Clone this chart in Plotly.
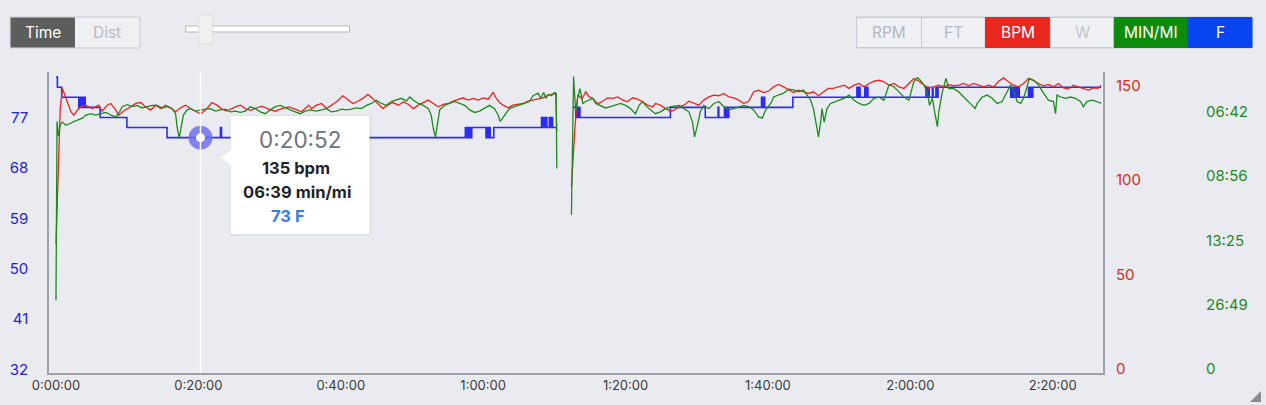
import plotly.graph_objects as go

# ---------------- data ----------------
x_tick_vals = [0, 20, 40, 60, 80, 100, 120, 140]
x_tick_text = ["0:00:00", "0:20:00", "0:40:00", "1:00:00", "1:20:00", "1:40:00", "2:00:00", "2:20:00"]
temp_tick_vals = [32, 41, 50, 59, 68, 77]
bpm_tick_vals = [0, 50, 100, 150]
speed_tick_vals = [0, 1, 2, 3, 4]          # m/s
pace_tick_text = ["0", "26:49", "13:25", "08:56", "06:42"]

hr_time = [0.0, 0.3, 0.6, 0.9, 1.6, 2.1, 2.5, 3.0, 3.5, 4.2, 5.1, 6.0, 6.5, 7.2, 7.7, 8.4, 8.8, 9.5,
           10.5, 11.2, 11.9, 12.6, 13.3, 14.0, 14.7, 15.4, 16.1, 16.8, 17.5, 18.2, 18.9, 19.6, 20.3,
           21.0, 21.9, 22.6, 23.3, 24.0, 24.5, 25.2, 25.9, 26.6, 27.3, 28.0, 28.9, 29.9, 30.8, 31.7,
           32.7, 33.6, 34.5, 35.5, 35.9, 36.6, 37.3, 38.0, 38.7, 39.4, 40.3, 41.0, 41.7, 42.4, 43.1,
           43.8, 44.5, 45.2, 45.9, 46.6, 47.3, 48.1, 48.8, 49.5, 50.2, 50.9, 51.6, 52.3, 53.0, 53.7,
           54.4, 55.1, 55.8, 56.5, 57.2, 57.9, 58.6, 59.3, 60.0, 60.7, 61.4, 61.8, 62.3, 62.8, 63.5,
           64.2, 64.9, 65.6, 66.3, 67.0, 67.7, 68.4, 69.1, 69.8, 70.2, 70.35, 71.4,
           72.4, 72.9, 73.3, 73.9, 74.4, 74.9, 75.4, 75.8, 76.3, 77.0, 77.5, 78.2, 78.9, 79.6, 80.3,
           81.0, 81.7, 82.4, 83.1, 83.8, 84.2, 84.9, 85.6, 86.4, 86.8, 87.5, 88.2, 88.9, 89.6, 90.3,
           91.0, 91.7, 92.4, 93.1, 93.8, 94.5, 95.2, 95.9, 96.6, 97.3, 98.0, 98.7, 99.4, 100.1, 100.8,
           101.5, 102.2, 102.9, 103.6, 104.3, 105.0, 105.7, 106.4, 107.1, 107.8, 108.5, 109.2, 110.0,
           110.7, 111.4, 112.1, 112.8, 113.5, 114.2, 114.9, 115.6, 116.3, 117.0, 117.7, 118.4, 119.1,
           119.8, 120.5, 121.2, 121.9, 122.6, 123.3, 124.0, 124.7, 125.4, 126.1, 126.8, 127.5, 128.2,
           128.9, 129.6, 130.3, 131.0, 131.7, 132.4, 133.1, 133.8, 134.5, 135.2, 135.9, 136.6, 137.3,
           138.0, 138.7, 139.4, 140.1, 140.8, 141.5, 142.2, 142.9, 143.6, 144.3, 145.0, 145.7, 146.4,
           146.8]
hr_bpm = [66, 105, 138, 148.5, 141.5, 136.2, 134.4, 137.0, 138.8, 139.7, 137.9, 139.7, 136.6, 139.7,
          140.6, 137.1, 134.4, 136.6, 138.8, 140.6, 141.1, 138.8, 137.1, 139.7, 137.9, 139.7, 138.3,
          136.2, 138.3, 139.7, 137.9, 136.6, 135.0, 137.1, 141.1, 139.7, 137.6, 136.6, 137.6, 138.8,
          139.7, 137.9, 137.0, 137.9, 139.2, 137.6, 136.5, 137.9, 138.8, 137.6, 136.2, 139.7, 137.9,
          139.7, 140.6, 137.9, 139.7, 141.5, 144.7, 142.4, 140.6, 141.8, 143.3, 145.4, 143.3, 140.6,
          137.9, 139.7, 141.1, 139.7, 141.5, 140.1, 137.9, 139.7, 141.1, 142.4, 140.6, 138.8, 140.1,
          140.6, 141.8, 142.9, 143.6, 142.4, 143.3, 142.4, 143.6, 142.9, 146.4, 143.6, 141.1, 139.7,
          138.3, 139.7, 140.1, 140.6, 141.8, 142.4, 143.3, 143.6, 145.0, 145.4, 145.9, 125.7, None,
          96.6, 128.0, 145.2, 143.0, 146.8, 144.1, 143.3, 141.5, 140.6, 142.4, 143.6, 143.3, 144.1,
          142.4, 141.5, 143.6, 142.9, 141.5, 139.7, 138.8, 140.6, 139.7, 137.9, 136.5, 137.0, 138.8,
          139.7, 141.8, 140.6, 139.7, 142.4, 144.1, 145.0, 144.7, 145.9, 144.1, 143.6, 142.4, 140.6,
          141.8, 146.8, 147.7, 146.4, 147.2, 149.4, 150.7, 149.4, 147.7, 146.4, 147.7, 146.8, 145.9,
          146.8, 144.7, 146.8, 148.6, 148.6, 149.4, 150.3, 148.6, 150.3, 151.2, 149.4, 151.2, 152.4,
          152.9, 152.1, 150.3, 151.2, 149.4, 148.6, 151.2, 153.8, 152.4, 150.3, 148.6, 149.4, 150.3,
          149.4, 150.7, 150.0, 150.3, 151.2, 150.0, 151.2, 150.3, 149.4, 150.3, 149.4, 152.4, 154.2,
          152.1, 150.3, 149.4, 151.2, 153.8, 152.9, 151.2, 150.0, 150.7, 149.4, 151.2, 148.9, 148.2,
          150.3, 149.4, 148.6, 147.7, 148.9, 148.6, 150.3]

pace_time = [0.0, 0.15, 0.35, 0.6, 0.9, 1.4, 1.8, 2.3, 3.0, 3.7, 4.2, 4.9, 5.6, 6.3, 7.0, 7.7, 8.4,
             8.8, 9.3, 10.0, 10.7, 11.4, 12.1, 12.8, 13.5, 14.2, 14.9, 15.6, 16.3, 16.8, 17.0, 17.3,
             17.6, 17.9, 18.4, 18.9, 19.6, 20.3, 21.0, 21.7, 22.4, 23.1, 23.8, 24.5, 25.2, 25.9, 26.6,
             27.3, 28.0, 28.7, 29.4, 30.1, 30.8, 31.5, 32.2, 32.9, 33.6, 34.3, 35.0, 35.7, 36.6, 37.3,
             38.0, 38.7, 39.4, 40.1, 40.8, 41.5, 42.2, 42.9, 43.6, 44.3, 45.0, 45.7, 46.4, 47.1, 47.8,
             48.5, 49.2, 49.7, 50.2, 50.9, 51.6, 52.3, 52.7, 53.0, 53.3, 53.6, 53.9, 54.6, 55.3, 56.0,
             56.7, 57.4, 58.1, 58.8, 59.5, 60.2, 60.9, 61.6, 62.1, 62.4, 63.0, 63.7, 64.4, 65.1, 65.8,
             66.5, 67.0, 67.7, 68.1, 68.5, 68.8, 69.2, 69.6, 70.0, 70.25, 70.35, 71.4,
             72.4, 72.7, 73.0, 73.3, 73.6, 74.0, 74.4, 74.9, 75.4, 75.8, 76.5, 77.2, 77.9, 78.6, 79.3,
             80.0, 80.7, 81.4, 81.9, 82.4, 82.8, 83.5, 84.2, 84.9, 85.6, 86.4, 87.5, 88.2, 88.9, 89.4,
             89.7, 90.1, 90.5, 91.0, 91.7, 92.4, 93.1, 93.8, 94.5, 95.2, 95.9, 96.6, 97.3, 98.0, 98.7,
             99.2, 99.7, 100.4, 100.8, 101.5, 102.2, 102.9, 103.6, 104.3, 105.0, 105.5, 106.0, 106.4,
             106.8, 107.1, 107.4, 107.6, 107.9, 108.3, 108.8, 109.5, 110.0, 110.7, 111.4, 112.1, 112.8,
             113.5, 114.2, 114.9, 115.6, 116.3, 117.0, 117.7, 118.4, 119.1, 119.8, 120.5, 121.0, 121.4,
             121.9, 122.4, 122.7, 123.1, 123.5, 123.8, 124.0, 124.5, 125.0, 125.4, 126.1, 126.8, 127.5,
             128.2, 128.7, 129.1, 129.4, 130.1, 130.8, 131.5, 132.2, 132.9, 133.6, 134.1, 134.5, 135.0,
             135.5, 135.9, 136.4, 136.7, 137.3, 138.0, 138.7, 139.4, 140.1, 140.4, 140.6, 141.1, 141.8,
             142.5, 143.2, 143.9, 144.3, 144.8, 145.5, 146.2, 146.8]
speed_ms = [1.07, 3.85, 3.62, 3.80, 3.84, 3.79, 3.81, 3.84, 3.87, 3.90, 3.95, 3.97, 3.95, 3.97, 3.99,
            3.95, 3.92, 3.97, 4.08, 4.11, 4.08, 4.10, 4.06, 4.08, 4.10, 4.10, 4.06, 4.08, 4.05, 3.97,
            3.77, 3.59, 3.79, 3.95, 4.03, 4.05, 4.01, 4.03, 4.04, 4.05, 4.01, 4.03, 4.04, 4.00, 4.01,
            3.99, 4.01, 4.08, 4.05, 4.00, 3.97, 4.03, 4.08, 4.10, 4.06, 4.03, 4.00, 3.97, 4.01, 4.03,
            4.01, 4.03, 4.05, 4.00, 4.01, 4.04, 4.03, 4.04, 4.06, 4.05, 4.10, 4.13, 4.18, 4.13, 4.10,
            4.16, 4.18, 4.21, 4.17, 4.23, 4.18, 4.13, 4.10, 4.05, 3.95, 3.74, 3.61, 3.84, 4.03, 4.10,
            4.13, 4.16, 4.13, 4.10, 4.03, 3.99, 4.01, 4.05, 4.10, 4.05, 3.95, 3.85, 3.95, 4.05, 4.08,
            4.10, 4.13, 4.16, 4.25, 4.29, 4.21, 4.30, 4.21, 4.27, 4.25, 4.30, 4.29, 3.12, None,
            2.40, 4.55, 4.00, 4.23, 4.36, 4.13, 4.16, 4.18, 4.21, 4.13, 4.10, 4.06, 4.08, 4.10, 4.13,
            4.10, 4.05, 3.97, 4.10, 4.16, 4.10, 4.03, 3.97, 4.00, 4.05, 4.08, 4.10, 4.05, 4.00, 3.84,
            3.61, 3.79, 4.00, 4.10, 4.05, 4.13, 4.16, 4.08, 4.03, 4.05, 4.08, 4.10, 4.08, 4.03, 3.92,
            3.90, 4.03, 4.13, 4.23, 4.26, 4.29, 4.35, 4.34, 4.31, 4.34, 4.26, 4.18, 4.05,
            3.79, 3.61, 3.84, 4.05, 3.84, 4.05, 4.13, 4.16, 4.18, 4.21, 4.26, 4.18, 4.13,
            4.10, 4.13, 4.21, 4.23, 4.18, 4.42, 4.39, 4.31, 4.23, 4.18, 4.47, 4.53, 4.49,
            4.42, 4.29, 4.10, 4.21, 3.95, 3.77, 4.00, 4.31, 4.52, 4.36, 4.36, 4.31, 4.23,
            4.16, 4.10, 4.05, 4.13, 4.23, 4.26, 4.21, 4.13, 4.16, 4.31, 4.42, 4.34, 4.16,
            4.13, 4.21, 4.39, 4.52, 4.49, 4.42, 4.29, 4.18, 4.16, 3.97, 4.26, 4.23, 4.21,
            4.23, 4.21, 4.16, 4.08, 4.16, 4.18, 4.16, 4.13]

temp_time = [0.0, 0.2, 0.8, 3.2, 3.35, 3.5, 3.65, 3.8, 3.95, 4.1, 6.2, 9.96, 15.6, 23.1, 23.25,
             57.5, 57.65, 57.8, 57.95, 58.1, 58.25, 58.4, 60.4, 60.55, 60.7, 60.85, 61.0, 61.5,
             68.2, 68.35, 68.5, 68.65, 68.8, 68.95, 69.3, 69.45, 69.6, 69.75, 70.3, 71.4,
             72.6, 73.0, 73.15, 73.3, 73.45, 73.6, 86.3, 91.2, 93.0, 93.1, 93.9, 94.05, 94.2, 94.35,
             94.5, 99.1, 99.25, 99.4, 99.55, 103.5, 112.5, 112.65, 112.8, 112.95, 113.6, 113.75,
             113.9, 114.05, 122.2, 122.35, 122.5, 122.65, 123.1, 123.2, 123.6, 123.75, 123.9,
             134.1, 134.25, 134.4, 134.55, 134.7, 134.85, 135.0, 135.15, 135.3, 136.6, 136.75,
             136.9, 137.05, 137.2, 146.8]
temp_f = [84.2, 82.4, 80.6, 78.8, 80.6, 78.8, 80.6, 78.8, 80.6, 78.8, 77.0, 75.2, 73.4, 75.2, 73.4,
          75.2, 73.4, 75.2, 73.4, 75.2, 73.4, 75.2, 73.4, 75.2, 73.4, 75.2, 73.4, 75.2,
          77.0, 75.2, 77.0, 75.2, 77.0, 75.2, 77.0, 75.2, 77.0, 75.2, 75.2, None,
          78.8, 77.0, 78.8, 77.0, 78.8, 77.0, 78.8, 77.0, 78.8, 77.0, 78.8, 77.0, 78.8, 77.0,
          78.8, 80.6, 78.8, 80.6, 78.8, 80.6, 82.4, 80.6, 82.4, 80.6, 82.4, 80.6,
          82.4, 80.6, 82.4, 80.6, 82.4, 80.6, 82.4, 80.6, 82.4, 80.6, 82.4,
          80.6, 82.4, 80.6, 82.4, 80.6, 82.4, 80.6, 82.4, 80.6, 82.4, 80.6,
          82.4, 80.6, 82.4, 82.4]

cursor_time = 20.3
cursor_temp = 73.4
tooltip_time = "0:20:52"
tooltip_bpm = "135 bpm"
tooltip_pace = "06:39 min/mi"
tooltip_temp = "73 F"

left_buttons = ["Time", "Dist"]
right_buttons = ["RPM", "FT", "BPM", "W", "MIN/MI", "F"]

# ---------------- layout helpers ----------------
W, H = 1266, 405
ML, MR, MT, MB = 47, 10, 72, 32
PW = W - ML - MR
PH = H - MT - MB
FONT = "Inter, Roboto, sans-serif"
BG = "#eaebf0"


def px(x):
    return (x - ML) / PW


def py(y):
    return (H - MB - y) / PH


RED = "#ee2420"
GREEN = "#1d8a1d"
BLUE = "#2b2bf2"

fig = go.Figure()
fig.add_trace(go.Scatter(x=pace_time, y=speed_ms, mode="lines", yaxis="y3",
                         line=dict(color=GREEN, width=1.3), connectgaps=False))
fig.add_trace(go.Scatter(x=hr_time, y=hr_bpm, mode="lines", yaxis="y2",
                         line=dict(color=RED, width=1.3), connectgaps=False))
fig.add_trace(go.Scatter(x=temp_time, y=temp_f, mode="lines", yaxis="y",
                         line=dict(color=BLUE, width=1.6, shape="hv"), connectgaps=False))
# hover ring
fig.add_trace(go.Scatter(x=[cursor_time], y=[cursor_temp], mode="markers", yaxis="y",
                         marker=dict(size=24, color="rgba(110,110,240,0.85)", line=dict(width=0))))
fig.add_trace(go.Scatter(x=[cursor_time], y=[cursor_temp], mode="markers", yaxis="y",
                         marker=dict(size=9, color="white", line=dict(width=0))))

shapes = []
annotations = []

# cursor line
shapes.append(dict(type="line", xref="x", yref="paper", x0=cursor_time, x1=cursor_time,
                   y0=0, y1=1, line=dict(color="white", width=1.5), layer="above"))

# tooltip
shapes.append(dict(type="rect", xref="paper", yref="paper", x0=px(228), x1=px(370),
                   y0=py(236), y1=py(115), fillcolor="rgba(0,0,0,0.05)", line=dict(width=0),
                   layer="above"))
shapes.append(dict(type="rect", xref="paper", yref="paper", x0=px(229), x1=px(368),
                   y0=py(234), y1=py(116), fillcolor="white", line=dict(width=0), layer="above"))
shapes.append(dict(type="path", xref="paper", yref="paper",
                   path=f"M {px(229.5)} {py(150)} L {px(219)} {py(157.5)} L {px(229.5)} {py(165)} Z",
                   fillcolor="white", line=dict(width=0), layer="above"))
annotations += [
    dict(text=tooltip_time, x=px(298.5), y=py(139), font=dict(size=22.5, color="#6b7382", family=FONT)),
    dict(text=f"<b>{tooltip_bpm}</b>", x=px(294.5), y=py(168), font=dict(size=16.5, color="#1f2229", family=FONT)),
    dict(text=f"<b>{tooltip_pace}</b>", x=px(295), y=py(191.5), font=dict(size=16.5, color="#1f2229", family=FONT)),
    dict(text=f"<b>{tooltip_temp}</b>", x=px(286), y=py(216), font=dict(size=16.5, color="#3a78e6", family=FONT)),
]

# left button group
shapes.append(dict(type="rect", xref="paper", yref="paper", x0=px(8), x1=px(138), y0=py(48), y1=py(17),
                   fillcolor="#eff0f3", line=dict(color="#c6cad3", width=1)))
shapes.append(dict(type="rect", xref="paper", yref="paper", x0=px(8.5), x1=px(73), y0=py(47.5), y1=py(17.5),
                   fillcolor="#5d5d5d", line=dict(width=0)))
annotations.append(dict(text=left_buttons[0], x=px(40.5), y=py(32.5), font=dict(size=15.5, color="white", family=FONT)))
annotations.append(dict(text=left_buttons[1], x=px(105.5), y=py(32.5), font=dict(size=15.5, color="#b8bbc3", family=FONT)))

# slider
shapes.append(dict(type="rect", xref="paper", yref="paper", x0=px(184), x1=px(348), y0=py(32), y1=py(26),
                   fillcolor="white", line=dict(color="#b5b7bc", width=1)))
shapes.append(dict(type="rect", xref="paper", yref="paper", x0=px(197), x1=px(211), y0=py(44), y1=py(15),
                   fillcolor="#f0f0f0", line=dict(color="#dadbdd", width=1)))

# right button group
bx = [856, 921, 985, 1050, 1114, 1188, 1252]
bfill = ["#eff0f3", "#eff0f3", "#e8281e", "#eff0f3", "#0c8c0c", "#0845f0"]
btext = ["#b3b8c2", "#b3b8c2", "white", "#c3c6cd", "white", "white"]
shapes.append(dict(type="rect", xref="paper", yref="paper", x0=px(856), x1=px(1252), y0=py(48), y1=py(17),
                   fillcolor="#eff0f3", line=dict(color="#c6cad3", width=1)))
for i, name in enumerate(right_buttons):
    shapes.append(dict(type="rect", xref="paper", yref="paper", x0=px(bx[i]), x1=px(bx[i + 1]),
                       y0=py(47.5), y1=py(17.5), fillcolor=bfill[i],
                       line=dict(color="#c6cad3" if bfill[i] == "#eff0f3" else bfill[i], width=1)))
    annotations.append(dict(text=name, x=px((bx[i] + bx[i + 1]) / 2), y=py(32.5),
                            font=dict(size=15.5, color=btext[i], family=FONT)))

# resize grip
shapes.append(dict(type="path", xref="paper", yref="paper",
                   path=f"M {px(1250)} {py(402)} L {px(1261)} {py(391)} L {px(1261)} {py(402)} Z",
                   fillcolor="#8a8c92", line=dict(width=0)))

for a in annotations:
    a.update(xref="paper", yref="paper", showarrow=False, xanchor="center", yanchor="middle")

AXIS_LINE = "#9ea1a8"
fig.update_layout(
    width=W, height=H,
    margin=dict(l=ML, r=MR, t=MT, b=MB, pad=0),
    paper_bgcolor=BG, plot_bgcolor=BG,
    showlegend=False, hovermode=False,
    font=dict(family=FONT),
    xaxis=dict(domain=[0, px(1103)], range=[-0.98, 147.1], tickvals=x_tick_vals, ticktext=x_tick_text,
               showgrid=False, zeroline=False, showline=True, linecolor=AXIS_LINE, linewidth=1.5,
               ticks="", tickfont=dict(size=13, color="#3a3a3a", family=FONT)),
    yaxis=dict(range=[31.37, 85.12], tickvals=temp_tick_vals, showgrid=False, zeroline=False,
               showline=True, linecolor=AXIS_LINE, linewidth=1.5, ticks="", ticklabelstandoff=16,
               tickfont=dict(size=15, color="#2222d8", family=FONT)),
    yaxis2=dict(range=[-2.39, 157.3], tickvals=bpm_tick_vals, overlaying="y", side="right", anchor="x",
                showgrid=False, zeroline=False, showline=True, linecolor=AXIS_LINE, linewidth=1.5,
                ticks="", ticklabelstandoff=8, tickfont=dict(size=15, color="#d42a22", family=FONT)),
    yaxis3=dict(range=[-0.062, 4.619], tickvals=speed_tick_vals, ticktext=pace_tick_text,
                overlaying="y", side="right", anchor="free", position=px(1203),
                showgrid=False, zeroline=False, showline=False, ticks="", ticklabelstandoff=2,
                tickfont=dict(size=15, color="#1f8a1f", family=FONT)),
    shapes=shapes,
    annotations=annotations,
)

fig.write_html("out.html", config={"displayModeBar": False},
               post_script="document.body.style.margin='0';document.body.style.overflow='hidden';")
